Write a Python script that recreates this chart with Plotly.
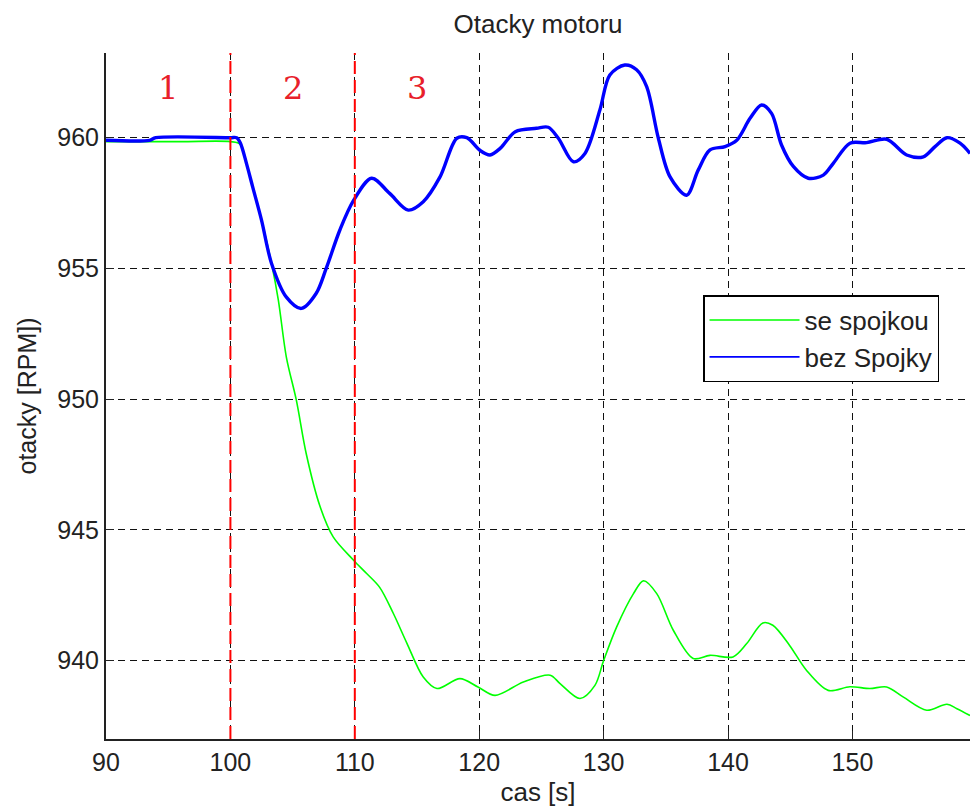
import plotly.graph_objects as go

# time [s] and speed [RPM]
t_green = [90, 96, 100, 100.8, 101.3, 101.8, 102.5, 103.3, 103.85, 104.5, 105.3, 106.1,
           107.2, 108.26, 109.9, 110.95, 112.0, 113.1, 114.2, 115.5, 116.6, 118.45,
           119.9, 121.27, 123.55, 125.7, 126.5, 128.1, 129.3, 130.0, 131.05, 132.4,
           133.2, 134.27, 135.6, 137.2, 138.55, 140.4, 141.5, 142.8, 143.6, 144.95,
           146.3, 148.05, 149.8, 151.4, 152.75, 154.1, 155.97, 157.6, 158.4, 159.45]
rpm_green = [959.85, 959.85, 959.85, 959.75, 959.0, 958.1, 956.85, 955.2, 953.8, 951.6,
             949.96, 947.9, 945.9, 944.73, 943.84, 943.33, 942.8, 941.8, 940.65, 939.37,
             938.93, 939.31, 938.99, 938.67, 939.18, 939.44, 939.12, 938.55, 939.05,
             940.0, 941.29, 942.56, 943.05, 942.56, 941.16, 940.08, 940.2, 940.14,
             940.65, 941.44, 941.35, 940.58, 939.63, 938.86, 939.0, 938.93, 938.99,
             938.6, 938.1, 938.33, 938.16, 937.9]

t_blue = [90, 93.5, 94, 100, 100.5, 100.8, 101.3, 101.8, 102.5, 103.3, 104.5, 105.7,
          106.9, 107.7, 108.8, 109.9, 111.35, 112.8, 114.3, 115.5, 116.85, 118.2, 119.0,
          120.1, 120.87, 121.7, 122.9, 124.6, 125.55, 126.36, 127.57, 128.5, 129.7,
          130.5, 131.7, 132.65, 133.46, 134.4, 135.34, 136.67, 137.6, 138.55, 139.76,
          140.7, 141.77, 142.7, 143.5, 144.3, 145.25, 146.45, 147.66, 148.46, 149.8,
          151.14, 152.75, 154.36, 155.7, 156.64, 157.6, 158.65, 159.45]
rpm_blue = [959.9, 959.9, 960.0, 960.0, 960.0, 959.8, 959.0, 958.1, 956.85, 955.2, 953.9,
            953.47, 954.05, 955.0, 956.47, 957.6, 958.45, 957.87, 957.23, 957.55, 958.5,
            959.98, 960.0, 959.5, 959.34, 959.6, 960.23, 960.36, 960.4, 959.98, 959.08,
            959.4, 961.06, 962.4, 962.78, 962.6, 961.95, 959.98, 958.5, 957.8, 958.76,
            959.53, 959.66, 959.9, 960.74, 961.25, 960.93, 959.72, 958.9, 958.45, 958.57,
            959.02, 959.79, 959.81, 959.94, 959.34, 959.27, 959.66, 960.0, 959.79, 959.4]

phase_bounds = [100, 110]
phase_labels = ["1", "2", "3"]
phase_label_x = [95, 105, 115]

x_ticks = [90, 100, 110, 120, 130, 140, 150]
y_ticks = [940, 945, 950, 955, 960]

FONT = "Liberation Sans"
TXT = "#222222"
GREEN = "#00ff00"
BLUE = "#0000ff"

fig = go.Figure()
fig.add_trace(go.Scatter(x=t_green, y=rpm_green, mode="lines", name="se spojkou",
                         showlegend=False,
                         line=dict(color=GREEN, width=1.6, shape="spline", smoothing=0.9)))
fig.add_trace(go.Scatter(x=t_blue, y=rpm_blue, mode="lines", name="bez Spojky",
                         showlegend=False,
                         line=dict(color=BLUE, width=3.4, shape="spline", smoothing=0.9)))
# legend entries (thin sample lines as in the reference)
fig.add_trace(go.Scatter(x=[None], y=[None], mode="lines", name="se spojkou",
                         line=dict(color=GREEN, width=1.5)))
fig.add_trace(go.Scatter(x=[None], y=[None], mode="lines", name="bez Spojky",
                         line=dict(color=BLUE, width=1.8)))

for b in phase_bounds:
    fig.add_shape(type="line", x0=b, x1=b, xref="x", y0=0, y1=1, yref="paper",
                  line=dict(color="#ff0000", width=2, dash="13px,6px"), layer="above")

for lx, lt in zip(phase_label_x, phase_labels):
    fig.add_annotation(x=lx, y=961.9, xref="x", yref="y", text=lt, showarrow=False,
                       font=dict(family="DejaVu Serif", size=32, color="#e8202a"))

fig.update_layout(
    width=970, height=807,
    margin=dict(l=106, r=0, t=53, b=68),
    paper_bgcolor="white", plot_bgcolor="white",
    font=dict(family=FONT, size=25, color=TXT),
    title=dict(text="Otacky motoru", x=0.5, xref="paper", y=1 - 24 / 807, yref="container",
               yanchor="middle", font=dict(family=FONT, size=26, color=TXT)),
    showlegend=True,
    legend=dict(x=0.691, y=0.647, xanchor="left", yanchor="top",
                bgcolor="white", bordercolor="black", borderwidth=1.5,
                font=dict(family=FONT, size=26, color=TXT), itemwidth=90,
                tracegroupgap=0),
)
fig.update_xaxes(range=[90, 159.45], tickvals=x_ticks, ticks="inside", ticklen=8,
                 tickcolor=TXT, showline=True, linecolor=TXT, linewidth=2,
                 showgrid=True, gridcolor="#111111", gridwidth=1.3, griddash="7px,5px",
                 zeroline=False,
                 title=dict(text="cas [s]", standoff=8, font=dict(size=26)),
                 tickfont=dict(size=25))
fig.update_yaxes(range=[937.0, 963.24], tickvals=y_ticks, ticks="inside", ticklen=8,
                 tickcolor=TXT, showline=True, linecolor=TXT, linewidth=2,
                 showgrid=True, gridcolor="#111111", gridwidth=1.3, griddash="7px,5px",
                 zeroline=False,
                 title=dict(text="otacky [RPM])", standoff=14, font=dict(size=25)),
                 tickfont=dict(size=25))

fig.write_html("out.html")
